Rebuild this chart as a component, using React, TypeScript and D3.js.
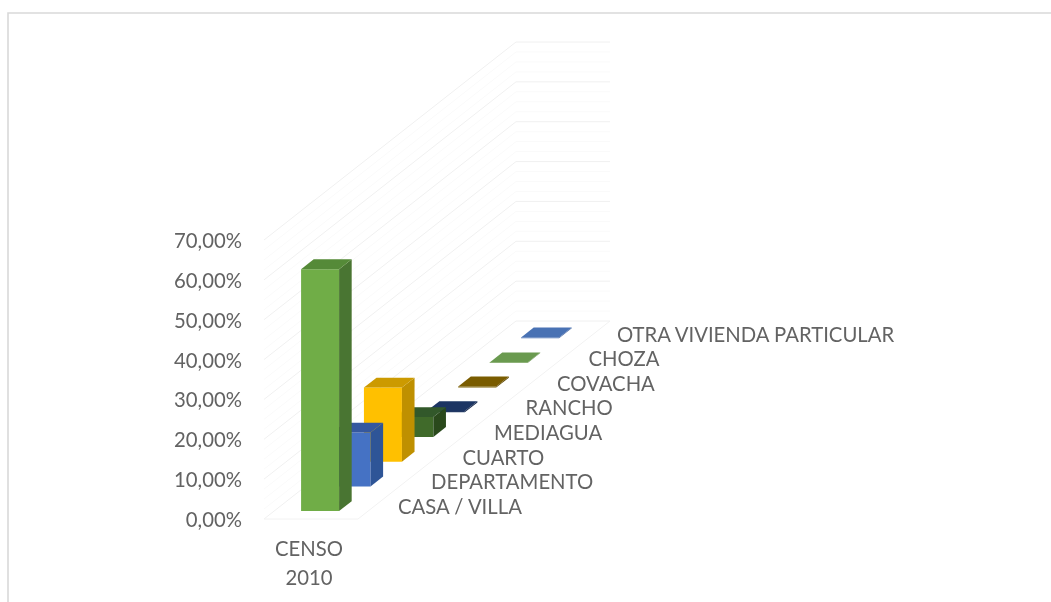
import React from "react";
import * as d3 from "d3";

const categories = ["CENSO", "2010"];
const seriesNames = ["CASA / VILLA", "DEPARTAMENTO", "CUARTO", "MEDIAGUA", "RANCHO", "COVACHA", "CHOZA", "OTRA VIVIENDA PARTICULAR"];
const seriesValues = [60.7, 13.5, 18.6, 5.0, 0.3, 0.3, 0.1, 0.2];
const frontColors = ["#70ad47", "#4472c4", "#ffc000", "#3f6b2c", "#203864", "#7f6000", "#6a9a48", "#4a72b4"];
const sideColors = ["#4a7530", "#2f5597", "#bf9000", "#2a4a1e", "#16284a", "#5f4800", "#55803a", "#365a96"];
const topColors = ["#558a37", "#34599f", "#cc9a00", "#32582a", "#1d3563", "#7a5c00", "#6a9a50", "#4a72b4"];
const yTicks = [0, 10, 20, 30, 40, 50, 60, 70];
const tickLabels = ["0,00%", "10,00%", "20,00%", "30,00%", "40,00%", "50,00%", "60,00%", "70,00%"];
const minorTicks = [2.5, 5, 7.5, 12.5, 15, 17.5, 22.5, 25, 27.5, 32.5, 35, 37.5, 42.5, 45, 47.5, 52.5, 55, 57.5, 62.5, 65, 67.5];

const FONT = "Lato, 'Open Sans', sans-serif";

export default function App() {
  const y = d3.scaleLinear().domain([0, 70]).range([0, 279]);
  const floorX = d3.scaleLinear().domain([0, 1]).range([264, 516]);
  const floorY = d3.scaleLinear().domain([0, 1]).range([519, 321]);
  const seriesPos = d3.scaleLinear().domain([0, 7]).range([0.04, 0.913]);
  const barDepth = 0.05;
  const barW = 38;
  const barLeft = 27;

  const pt = (x: number, d: number, v: number) => [floorX(d) + x, floorY(d) - y(v)];
  const poly = (pts: number[][]) => pts.map((p) => p.join(",")).join(" ");
  const line = d3.line();

  return (
    <svg width={1051} height={602} style={{ position: "fixed", left: 0, top: 0, background: "#fff", display: "block" }}>
      <defs>
        <filter id="soft" x="-5%" y="-5%" width="110%" height="110%">
          <feGaussianBlur stdDeviation="0.6" />
        </filter>
      </defs>
      <g filter="url(#soft)">
        <path d="M1051,13 H8 V602" fill="none" stroke="#d9d9d9" strokeWidth={1.6} />
        {minorTicks.map((t) => (
          <path key={t} d={line([pt(0, 0, t), pt(0, 1, t), pt(94, 1, t)] as [number, number][]) as string} fill="none" stroke="#fafafa" />
        ))}
        {yTicks.map((t) => (
          <path key={t} d={line([pt(0, 0, t), pt(0, 1, t), pt(94, 1, t)] as [number, number][]) as string} fill="none" stroke="#f0f0f0" />
        ))}
        <path d={line([pt(0, 0, 0), pt(94, 0, 0), pt(94, 1, 0)] as [number, number][]) as string} fill="none" stroke="#f2f2f2" />
        {seriesValues
          .map((v, i) => ({ v, i }))
          .reverse()
          .map(({ v, i }) => {
            const d0 = seriesPos(i);
            const d1 = d0 + barDepth;
            const a = barLeft, b = barLeft + barW;
            return (
              <g key={seriesNames[i]}>
                <polygon points={poly([pt(a, d0, 0), pt(b, d0, 0), pt(b, d0, v), pt(a, d0, v)])} fill={frontColors[i]} />
                <polygon points={poly([pt(b, d0, 0), pt(b, d1, 0), pt(b, d1, v), pt(b, d0, v)])} fill={sideColors[i]} />
                <polygon points={poly([pt(a, d0, v), pt(b, d0, v), pt(b, d1, v), pt(a, d1, v)])} fill={topColors[i]} />
              </g>
            );
          })}
        <g fontFamily={FONT} fontSize={20.3} fill="#636363">
          {yTicks.map((t, i) => (
            <text key={t} x={242} y={519 - y(t) + 8} textAnchor="end">{tickLabels[i]}</text>
          ))}
          {seriesNames.map((s, i) => (
            <text key={s} x={i === 0 ? 398 : i === 7 ? 617 : 399.5 + 31.5 * i} y={514 - 24.7 * i + (i === 7 ? 1 : 0)}>{s}</text>
          ))}
          {categories.map((c, i) => (
            <text key={c} x={309} y={556 + 29 * i} textAnchor="middle">{c}</text>
          ))}
        </g>
      </g>
    </svg>
  );
}
